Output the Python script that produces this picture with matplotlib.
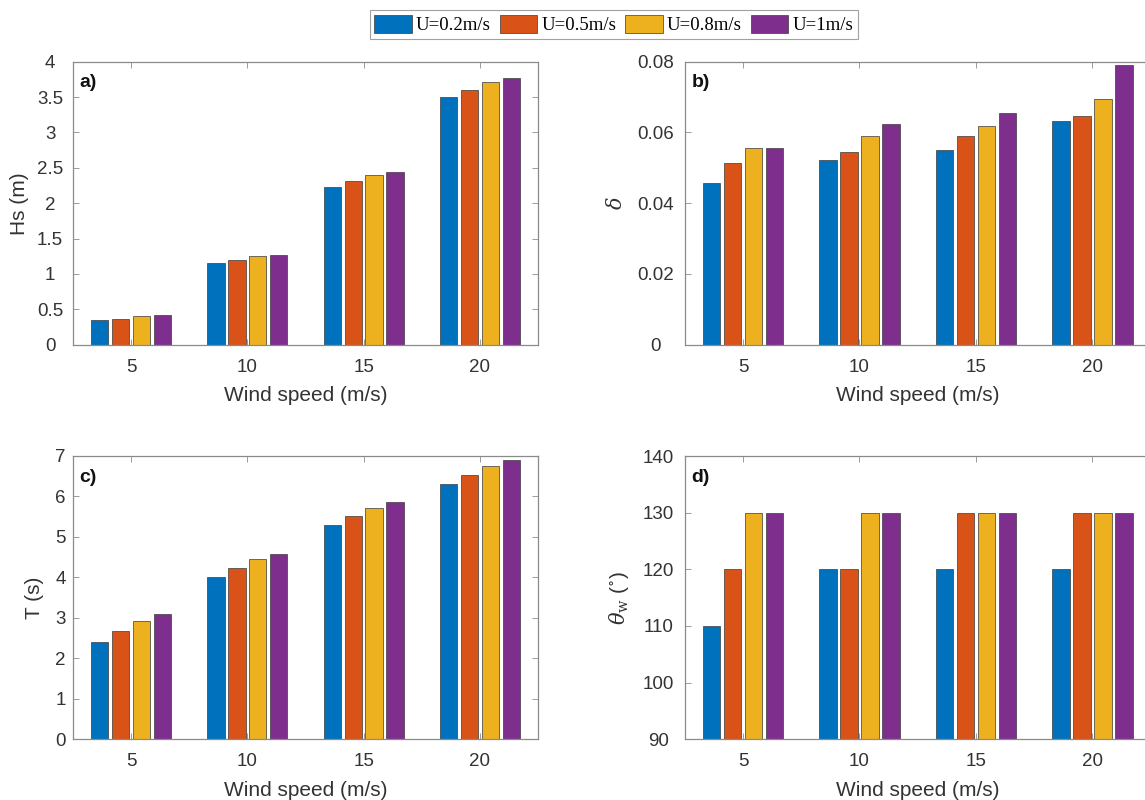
import numpy as np
import matplotlib
matplotlib.use('Agg')
import matplotlib.pyplot as plt
from matplotlib.patches import Patch

# Data
wind = [5, 10, 15, 20]
series = ['U=0.2m/s', 'U=0.5m/s', 'U=0.8m/s', 'U=1m/s']
colors = ['#0072BD', '#D95319', '#EDB120', '#7E2F8E']

hs = [[0.35, 1.15, 2.23, 3.50],
      [0.37, 1.20, 2.32, 3.60],
      [0.40, 1.25, 2.40, 3.71],
      [0.42, 1.27, 2.44, 3.77]]
delta = [[0.0456, 0.0523, 0.0550, 0.0633],
         [0.0514, 0.0546, 0.0589, 0.0646],
         [0.0557, 0.0591, 0.0617, 0.0694],
         [0.0557, 0.0624, 0.0655, 0.0790]]
period = [[2.41, 4.01, 5.29, 6.31],
          [2.67, 4.24, 5.51, 6.54],
          [2.92, 4.45, 5.72, 6.75],
          [3.10, 4.59, 5.86, 6.89]]
theta = [[110, 120, 120, 120],
         [120, 120, 130, 130],
         [130, 130, 130, 130],
         [130, 130, 130, 130]]

panels = [
    ('a)', hs, 'Hs (m)', (0, 4), np.arange(0, 4.01, 0.5)),
    ('b)', delta, r'$\delta$', (0, 0.08), np.arange(0, 0.081, 0.02)),
    ('c)', period, 'T (s)', (0, 7), np.arange(0, 8, 1)),
    ('d)', theta, r'$\theta_{\mathrm{w}}$ ($^{\circ}$)', (90, 140), np.arange(90, 141, 10)),
]

plt.rcParams['font.family'] = ['Liberation Sans', 'DejaVu Sans']
plt.rcParams['mathtext.fontset'] = 'dejavuserif'

fig = plt.figure(figsize=(11.45, 8), dpi=100)
positions = [[0.0638, 0.569, 0.406, 0.354],
             [0.598, 0.569, 0.407, 0.354],
             [0.0638, 0.076, 0.406, 0.354],
             [0.598, 0.076, 0.407, 0.354]]
# y tick labels are centred in a column left of the axis (pad in points)
ypads = [16.5, 21, 9, 19]
ylab_x = [-0.095, -0.127, -0.063, -0.116]

spine_col = '#8a8a8a'
txt_col = '#333333'
pitch = 0.9
bw = 0.74

def fmt(v):
    s = ('%.2f' % v).rstrip('0').rstrip('.')
    return s

for k, (pos, (tag, vals, ylab, ylim, yt)) in enumerate(zip(positions, panels)):
    ax = fig.add_axes(pos)
    x = np.array(wind, dtype=float)
    for i, (v, c) in enumerate(zip(vals, colors)):
        off = (i - 1.5) * pitch
        bottom = ylim[0]
        ax.bar(x + off, np.array(v) - bottom, bw, bottom=bottom, color=c,
               edgecolor='#3a3a3a', linewidth=0.5, zorder=2)
    ax.set_xlim(2.5, 22.5)
    ax.set_ylim(*ylim)
    ax.set_xticks(wind)
    ax.set_xticklabels([str(w) for w in wind])
    ax.set_yticks(yt)
    ax.set_yticklabels([fmt(t) for t in yt], ha='center')
    ax.tick_params(direction='in', length=4, width=0.6, color=spine_col,
                   top=True, right=True, labelsize=13.5, labelcolor=txt_col)
    ax.tick_params(axis='x', pad=10)
    ax.tick_params(axis='y', pad=ypads[k])
    for s in ax.spines.values():
        s.set_color(spine_col)
        s.set_linewidth(0.9)
    ax.set_xlabel('Wind speed (m/s)', fontsize=15, color=txt_col, labelpad=7.5)
    ax.set_ylabel(ylab, fontsize=15, color=txt_col)
    ax.yaxis.set_label_coords(ylab_x[k], 0.5)
    ax.text(0.014, 0.925, tag, transform=ax.transAxes, fontsize=14,
            fontweight='bold', va='center', ha='left', color='#111111')

handles = [Patch(facecolor=c, edgecolor='#3a3a3a', linewidth=0.5) for c in colors]
leg = fig.legend(handles, series, loc='center', bbox_to_anchor=(0.536, 0.969), ncol=4,
                 prop={'family': 'Liberation Serif', 'size': 13.5}, frameon=True,
                 fancybox=False, edgecolor='#8a8a8a', handlelength=2.0, handleheight=1.1,
                 handletextpad=0.2, columnspacing=0.5, borderpad=0.25, borderaxespad=0)
leg.get_frame().set_linewidth(0.8)

fig.savefig('out.png', dpi=100)
